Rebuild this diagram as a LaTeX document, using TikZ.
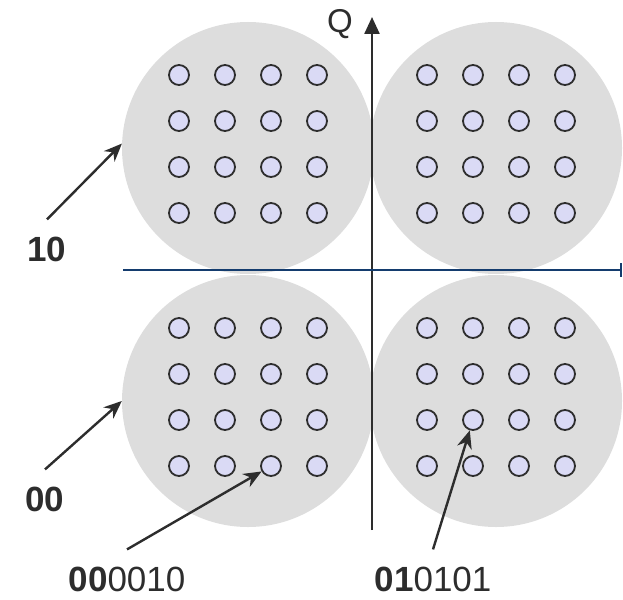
\documentclass[tikz,border=0pt]{standalone}
\usepackage{fontspec}
\setmainfont{Liberation Sans}
\usetikzlibrary{arrows.meta}
\definecolor{discgray}{RGB}{221,221,221}
\definecolor{dotfill}{RGB}{218,218,245}
\definecolor{inkgray}{RGB}{45,45,45}
\definecolor{axisblue}{RGB}{20,60,110}

\begin{document}
\begin{tikzpicture}[x=1pt, y=-1pt, >={Stealth[length=18pt,width=15pt]},
    disc/.style={circle, fill=discgray, minimum size=252pt, inner sep=0pt},
    dot/.style={circle, draw=inkgray, line width=1.8pt, fill=dotfill, minimum size=20pt, inner sep=0pt},
    pointer/.style={->, draw=inkgray, line width=2.4pt},
    lbl/.style={text=inkgray, font=\fontsize{35}{35}\selectfont, inner sep=0pt}]
  \useasboundingbox (0,0) rectangle (623,599);
  % Four clusters with 16 points each
  \foreach \q/\cx/\cy in {tl/248/148, tr/496/148, bl/248/401, br/496/401} {
    \node[disc] (\q) at (\cx,\cy) {};
    \foreach \i in {1,...,4}
      \foreach \j in {1,...,4}
        \node[dot] (d-\q-\i-\j) at ({\cx-115+46*\j},{\cy-119+46*\i}) {};
  }
  % Axes
  \coordinate (yb) at (372,530);
  \coordinate (yt) at (372,17);
  \coordinate (xl) at (123,270);
  \coordinate (xr) at (622,270);
  \draw[-{Triangle[length=17pt,width=15pt]}, draw=inkgray, line width=2.4pt] (yb) -- (yt);
  \draw[-{Bar[width=14pt]}, draw=axisblue, line width=2.4pt] (xl) -- (xr);
  \node[lbl, font=\fontsize{33}{33}\selectfont] (qlab) at (340,24) {Q};
  % Labels and pointers
  \node[lbl] (l10) at (47,249) {\textbf{10}};
  \node[lbl] (l00) at (45,499) {\textbf{00}};
  \node[lbl] (b1) at (127,579) {\textbf{00}0010};
  \node[lbl] (b2) at (433,579) {\textbf{01}0101};
  \draw[pointer] ([yshift=17pt]l10.north) -- (tl.178);
  \draw[pointer] ([yshift=17pt]l00.north) -- (bl.180);
  \draw[pointer] ([yshift=17pt]b1.north) -- (d-bl-4-3);
  \draw[pointer] ([yshift=17pt]b2.north) -- (d-br-3-2);
\end{tikzpicture}
\end{document}
